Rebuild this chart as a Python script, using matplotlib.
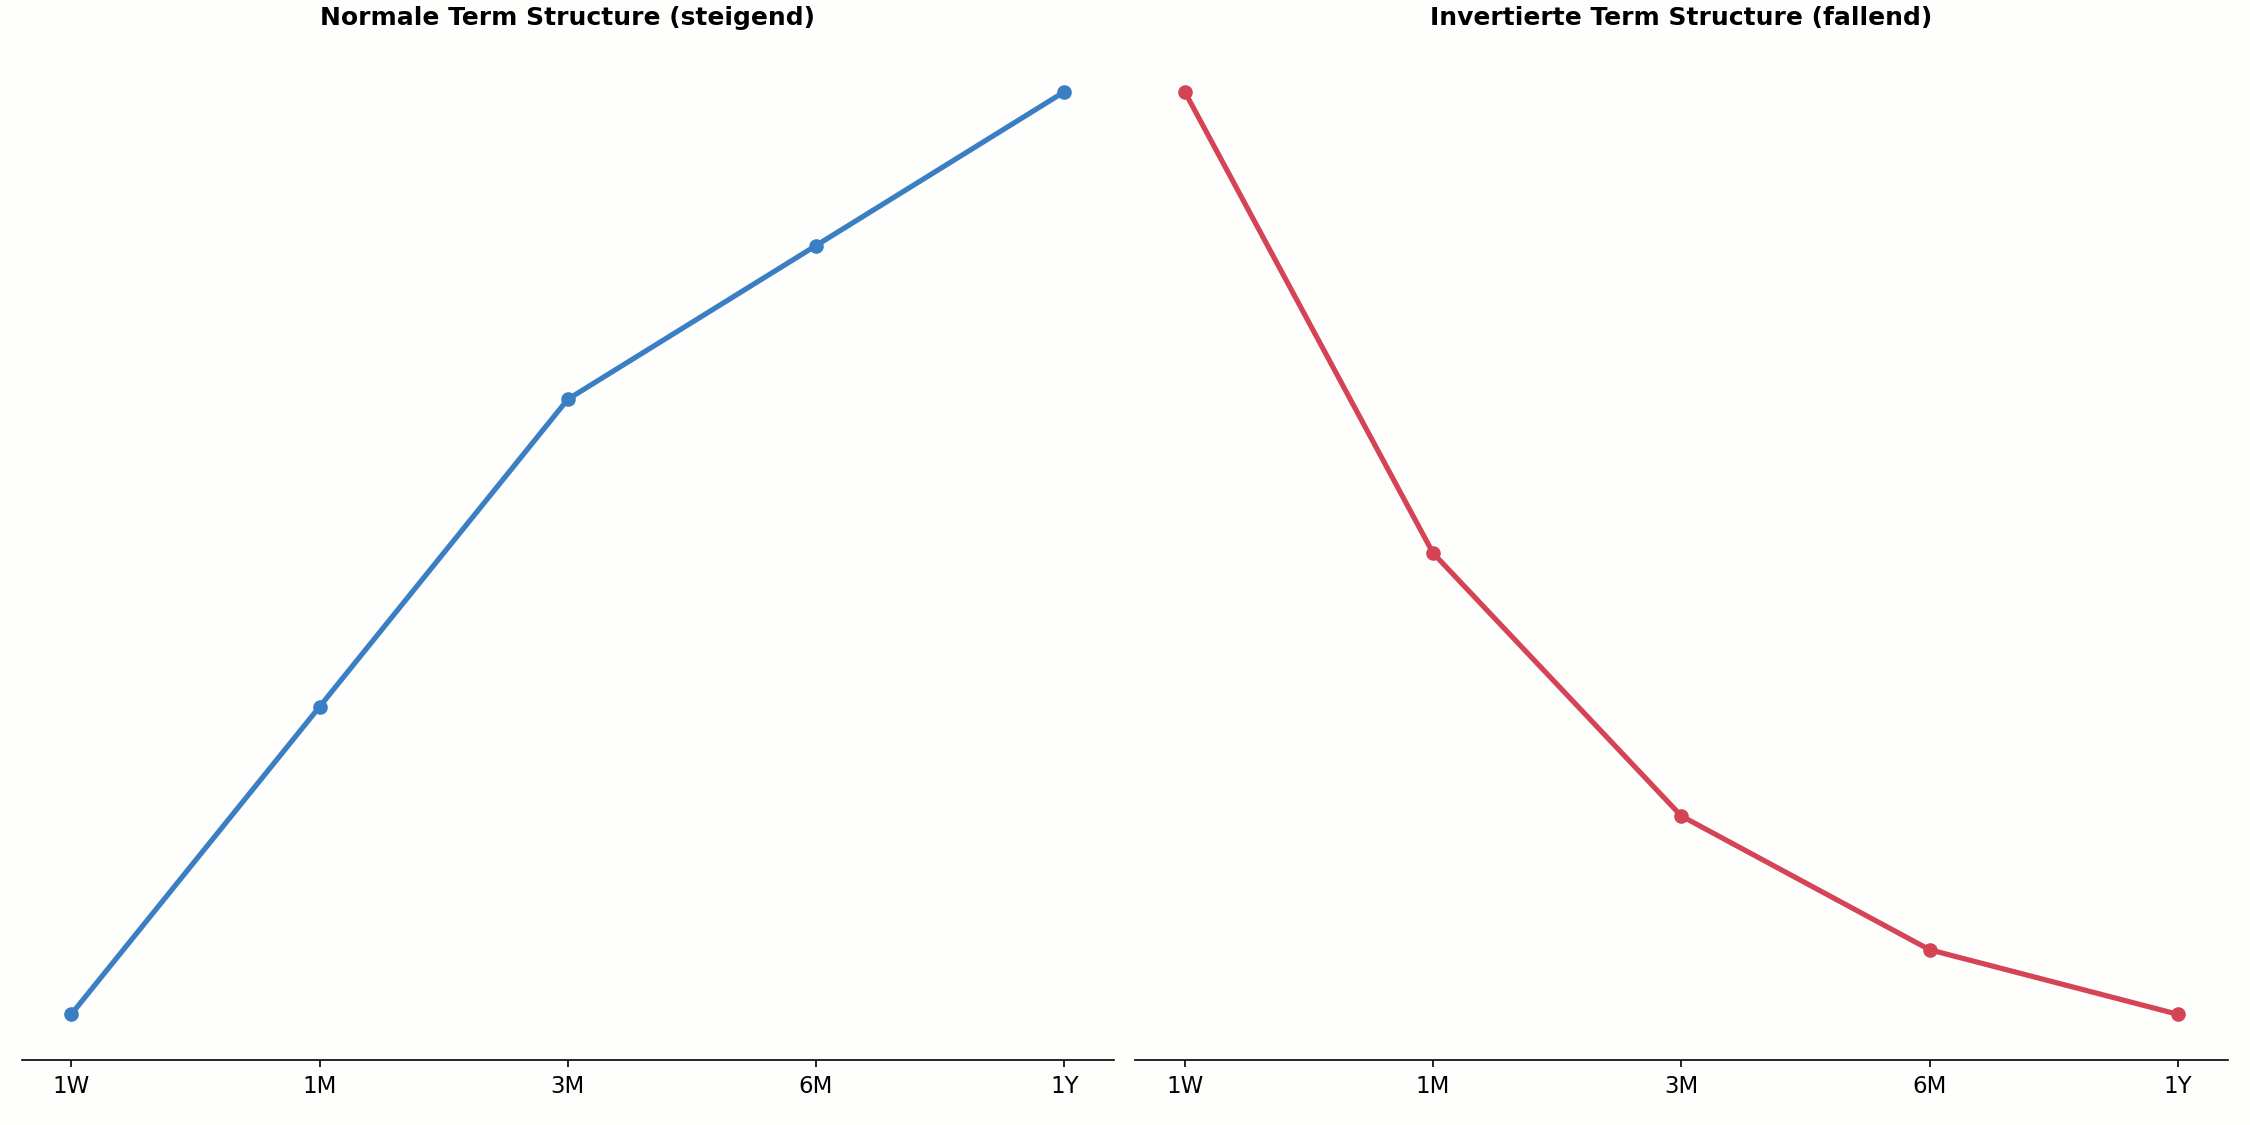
import matplotlib.pyplot as plt

tenors = ['1W', '1M', '3M', '6M', '1Y']
normal_vals = [12, 14, 16, 17, 18]
inverted_vals = [35, 25, 19.3, 16.4, 15]

bg = '#fefefc'
fig = plt.figure(figsize=(15, 7.5), dpi=150, facecolor=bg)
ax1 = fig.add_axes([0.0096, 0.0574, 0.4855, 0.902])
ax2 = fig.add_axes([0.5045, 0.0574, 0.4855, 0.902])

panels = [
    (ax1, normal_vals, '#3a7ec4', 'Normale Term Structure (steigend)'),
    (ax2, inverted_vals, '#d44455', 'Invertierte Term Structure (fallend)'),
]
for ax, vals, col, title in panels:
    ax.set_facecolor(bg)
    ax.plot(tenors, vals, color=col, linewidth=2.5, marker='o', markersize=6)
    ax.set_title(title, fontsize=12, fontweight='bold', pad=10)
    ax.set_yticks([])
    for s in ['left', 'right', 'top']:
        ax.spines[s].set_visible(False)
    ax.tick_params(axis='x', labelsize=11)

fig.savefig('out.png', dpi=150, facecolor=bg)
